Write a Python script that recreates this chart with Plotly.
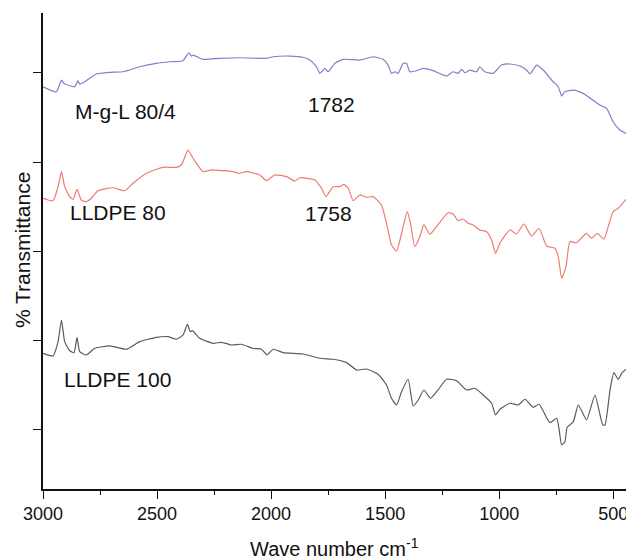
import plotly.graph_objects as go

# ---- data (wavenumber in cm^-1, transmittance in arbitrary offset units) ----
wn_mgl = [3000, 2941, 2919, 2909, 2861, 2847, 2839, 2817, 2766, 2707, 2649, 2576, 2503, 2444,
          2386, 2361, 2349, 2342, 2298, 2225, 2137, 2020, 1991, 1918, 1860, 1830, 1801, 1786,
          1764, 1750, 1721, 1684, 1611, 1553, 1509, 1487, 1472, 1457, 1443, 1421, 1406, 1392,
          1362, 1333, 1290, 1231, 1202, 1180, 1165, 1150, 1129, 1099, 1085, 1063, 1026, 990,
          953, 909, 880, 865, 836, 807, 763, 741, 726, 712, 675, 632, 558, 529, 500, 471, 444]
t_mgl = [48.44, 47.88, 49.19, 48.82, 48.44, 49.12, 48.75, 49.0, 49.87, 50.06, 50.12, 50.68,
         51.06, 51.24, 51.36, 52.25, 51.88, 51.99, 51.51, 51.62, 51.69, 51.62, 51.80, 51.88,
         51.74, 51.43, 50.68, 49.94, 50.50, 50.12, 51.06, 51.51, 51.43, 51.80, 51.51, 50.87,
         49.94, 50.12, 49.94, 51.06, 51.06, 50.12, 50.24, 50.50, 50.24, 49.64, 50.12, 49.94,
         50.39, 50.01, 50.31, 50.12, 50.68, 50.12, 49.94, 50.87, 50.99, 50.76, 50.31, 49.87,
         50.87, 50.31, 49.0, 48.44, 47.40, 47.88, 48.07, 47.70, 46.39, 46.02, 44.49, 43.59, 43.22]

wn_80 = [3000, 2956, 2934, 2919, 2905, 2883, 2868, 2851, 2832, 2810, 2788, 2759, 2693, 2642,
         2605, 2547, 2474, 2415, 2393, 2364, 2342, 2298, 2261, 2211, 2167, 2137, 2108, 2050,
         2020, 1984, 1932, 1896, 1874, 1808, 1779, 1759, 1728, 1699, 1681, 1662, 1640, 1611,
         1582, 1553, 1516, 1494, 1472, 1450, 1428, 1403, 1389, 1370, 1348, 1330, 1304, 1275,
         1224, 1202, 1180, 1158, 1136, 1114, 1085, 1055, 1033, 1016, 997, 953, 924, 892, 858,
         825, 792, 756, 741, 726, 707, 690, 661, 617, 595, 570, 541, 522, 500, 478, 444]
t_80 = [35.95, 35.68, 37.25, 38.93, 37.25, 36.13, 35.83, 36.95, 35.76, 35.57, 35.95, 36.80,
        37.13, 36.80, 37.63, 38.75, 39.42, 39.42, 39.68, 41.35, 40.43, 38.93, 39.12, 39.04,
        38.93, 38.75, 38.93, 38.56, 37.92, 38.56, 38.37, 37.88, 38.25, 38.0, 37.07, 36.15,
        37.25, 37.25, 37.51, 37.07, 35.68, 36.32, 36.06, 36.13, 35.20, 33.15, 30.72, 30.04,
        32.03, 34.45, 33.15, 30.53, 31.65, 32.96, 31.92, 32.77, 34.33, 34.19, 33.44, 33.63,
        33.15, 32.96, 32.40, 32.21, 31.28, 29.79, 30.91, 32.40, 31.95, 33.07, 31.72, 32.59,
        30.60, 30.35, 29.41, 26.99, 28.29, 31.09, 30.97, 32.03, 31.47, 32.03, 31.36, 32.77,
        34.45, 34.83, 35.83]

wn_100 = [3000, 2956, 2934, 2919, 2905, 2883, 2864, 2851, 2839, 2810, 2773, 2707, 2634, 2576,
          2503, 2452, 2415, 2386, 2367, 2354, 2345, 2313, 2254, 2218, 2174, 2130, 2079, 2042,
          2018, 1991, 1947, 1860, 1786, 1728, 1669, 1625, 1582, 1531, 1494, 1472, 1450, 1428,
          1399, 1377, 1355, 1330, 1301, 1268, 1231, 1187, 1143, 1107, 1070, 1033, 1016, 997,
          953, 917, 887, 851, 825, 778, 748, 737, 726, 712, 702, 675, 653, 617, 580, 546, 536,
          514, 497, 478, 463, 444]
t_100 = [18.59, 18.29, 19.89, 22.32, 19.89, 18.88, 18.66, 20.38, 18.77, 18.40, 19.15, 19.41,
         19.04, 19.89, 20.38, 20.45, 20.16, 20.64, 21.84, 21.01, 21.12, 20.27, 19.71, 19.82,
         19.52, 19.60, 19.15, 19.04, 18.40, 19.04, 18.66, 18.51, 18.03, 17.92, 17.54, 16.72,
         16.83, 16.24, 15.04, 13.55, 12.80, 14.29, 15.68, 12.69, 13.36, 14.48, 13.55, 14.48,
         15.68, 15.52, 14.48, 14.67, 13.92, 12.99, 11.68, 12.32, 12.99, 12.80, 13.44, 12.54,
         12.88, 10.82, 11.31, 10.0, 8.32, 8.69, 10.30, 10.93, 12.80, 11.12, 13.92, 10.56,
         10.56, 14.48, 16.42, 15.68, 16.35, 16.80]

y_ticks = [10, 20, 30, 40, 50]
x_ticks = [3000, 2500, 2000, 1500, 1000, 500]

FONT = "Liberation Sans, Arial, sans-serif"

fig = go.Figure()
line_common = dict(width=1.2, shape="spline", smoothing=0.5)
fig.add_trace(go.Scatter(x=wn_mgl, y=t_mgl, mode="lines", name="M-g-L 80/4",
                         line=dict(color="#7c81c8", **line_common)))
fig.add_trace(go.Scatter(x=wn_80, y=t_80, mode="lines", name="LLDPE 80",
                         line=dict(color="#ee7c70", **line_common)))
fig.add_trace(go.Scatter(x=wn_100, y=t_100, mode="lines", name="LLDPE 100",
                         line=dict(color="#5c5c5c", **line_common)))

labels = [
    ("M-g-L 80/4", 2870, 45.7),
    ("LLDPE 80", 2892, 34.4),
    ("LLDPE 100", 2915, 15.7),
    ("1782", 1848, 46.5),
    ("1758", 1860, 34.2),
]
for txt, xx, yy in labels:
    fig.add_annotation(x=xx, y=yy, text=txt, showarrow=False, xanchor="left",
                       yanchor="middle", font=dict(family=FONT, size=21, color="#111111"))

# axis titles
fig.add_annotation(x=0.5, y=-0.122, xref="paper", yref="paper", xanchor="center",
                   yanchor="middle", showarrow=False, text="Wave number cm<sup>-1</sup>",
                   font=dict(family=FONT, size=20, color="#111111"))
fig.add_annotation(x=-0.036, y=0.502, xref="paper", yref="paper", xanchor="center",
                   yanchor="middle", showarrow=False, text="% Transmittance", textangle=-90,
                   font=dict(family=FONT, size=21, color="#111111"))

fig.update_layout(
    width=626, height=560,
    margin=dict(l=43, r=0, t=13, b=71),
    paper_bgcolor="white", plot_bgcolor="white",
    showlegend=False,
    font=dict(family=FONT, color="#111111"),
)
fig.update_xaxes(
    range=[3000, 444], tickvals=x_ticks, ticks="outside", ticklen=8, tickwidth=1.3,
    tickcolor="#111111", showline=True, linecolor="#111111", linewidth=1.5,
    showgrid=False, zeroline=False, tickfont=dict(size=18, family=FONT),
    automargin=False, ticklabeloverflow="allow",
    minor=dict(dtick=250, tick0=500, ticks="outside", ticklen=4, tickwidth=1.2,
               tickcolor="#111111", showgrid=False),
)
fig.update_yaxes(
    range=[3.39, 56.7], tickvals=y_ticks, ticks="outside", ticklen=8, tickwidth=1.3,
    tickcolor="#111111", showticklabels=False, showline=True, linecolor="#111111",
    linewidth=1.5, showgrid=False, zeroline=False, automargin=False,
)

# remove the page's default body margin so the 626x560 figure fills the window exactly
fig.write_html(
    "out.html",
    config={"displayModeBar": False},
    post_script="document.body.style.margin='0';document.body.style.overflow='hidden';",
)
